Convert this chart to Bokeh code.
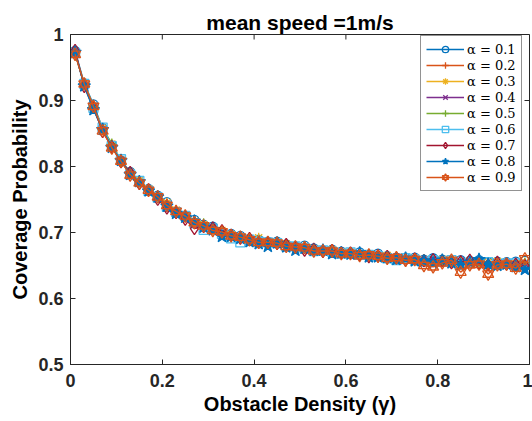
import math
from bokeh.plotting import figure
from bokeh.models import (FixedTicker, CustomJSTickFormatter, Legend,
                          LegendItem, Range1d)
from bokeh.embed import file_html
from bokeh.resources import INLINE

# ---------------- data ----------------
density = [0.01, 0.03, 0.05, 0.07, 0.09, 0.11, 0.13, 0.15, 0.17, 0.19,
           0.21, 0.23, 0.25, 0.27, 0.29, 0.31, 0.33, 0.35, 0.37, 0.39,
           0.41, 0.43, 0.45, 0.47, 0.49, 0.51, 0.53, 0.55, 0.57, 0.59,
           0.61, 0.63, 0.65, 0.67, 0.69, 0.71, 0.73, 0.75, 0.77, 0.79,
           0.81, 0.83, 0.85, 0.87, 0.89, 0.91, 0.93, 0.95, 0.97, 0.99]

alpha_01 = [.975, .926, .894, .858, .832, .809, .792, .776, .766, .756,
            .746, .730, .725, .719, .712, .709, .701, .698, .695, .688,
            .689, .686, .686, .682, .679, .680, .676, .673, .674, .671,
            .669, .670, .666, .668, .664, .662, .662, .662, .659, .661,
            .659, .657, .658, .657, .658, .655, .656, .655, .656, .657]
alpha_02 = [.971, .925, .888, .855, .831, .807, .790, .778, .763, .753,
            .740, .733, .723, .716, .708, .706, .699, .696, .694, .688,
            .687, .687, .682, .681, .676, .676, .675, .671, .671, .671,
            .667, .667, .666, .662, .662, .662, .659, .659, .660, .656,
            .655, .656, .656, .654, .651, .654, .654, .651, .651, .652]
alpha_03 = [.972, .926, .891, .858, .834, .810, .791, .779, .766, .754,
            .745, .734, .724, .717, .712, .704, .703, .697, .692, .691,
            .692, .686, .685, .683, .677, .678, .675, .672, .674, .670,
            .670, .667, .666, .666, .665, .662, .660, .661, .659, .656,
            .659, .657, .655, .657, .652, .655, .656, .653, .653, .654]
alpha_04 = [.973, .923, .890, .856, .829, .810, .790, .775, .765, .755,
            .742, .731, .726, .717, .709, .708, .701, .694, .692, .690,
            .686, .687, .683, .678, .679, .675, .674, .674, .670, .669,
            .669, .665, .665, .665, .661, .663, .660, .658, .659, .660,
            .657, .655, .657, .655, .651, .644, .653, .655, .651, .653]
alpha_05 = [.971, .924, .891, .857, .835, .808, .789, .777, .764, .752,
            .743, .732, .723, .718, .714, .705, .699, .697, .692, .687,
            .687, .686, .682, .680, .680, .675, .674, .673, .670, .670,
            .668, .669, .664, .664, .663, .660, .662, .659, .657, .657,
            .658, .655, .655, .657, .653, .654, .654, .652, .652, .654]
alpha_06 = [.972, .925, .889, .859, .831, .811, .788, .778, .763, .753,
            .739, .731, .725, .714, .704, .706, .698, .691, .685, .689,
            .686, .685, .684, .679, .679, .676, .672, .673, .671, .668,
            .670, .666, .666, .664, .661, .658, .661, .659, .656, .658,
            .656, .658, .651, .654, .654, .655, .651, .653, .653, .651]
alpha_07 = [.976, .921, .889, .853, .830, .807, .791, .774, .765, .750,
            .737, .730, .720, .706, .709, .707, .703, .696, .691, .691,
            .685, .684, .683, .682, .677, .673, .675, .671, .673, .669,
            .669, .666, .663, .665, .664, .661, .658, .660, .657, .659,
            .657, .654, .656, .658, .653, .651, .655, .652, .652, .650]
alpha_08 = [.973, .922, .886, .856, .829, .809, .788, .777, .763, .754,
            .740, .729, .723, .717, .708, .704, .694, .694, .691, .686,
            .683, .679, .684, .678, .673, .676, .673, .673, .668, .669,
            .667, .669, .663, .663, .662, .659, .661, .657, .657, .654,
            .658, .654, .651, .655, .659, .652, .650, .652, .648, .644]
alpha_09 = [.970, .925, .891, .854, .828, .808, .787, .775, .764, .754,
            .741, .732, .725, .715, .710, .703, .701, .695, .693, .689,
            .685, .685, .684, .679, .678, .677, .672, .672, .672, .668,
            .668, .665, .666, .664, .661, .662, .658, .659, .650, .648,
            .654, .658, .640, .651, .652, .637, .651, .652, .646, .660]

series_labels = ["α = 0.1", "α = 0.2", "α = 0.3", "α = 0.4", "α = 0.5",
                 "α = 0.6", "α = 0.7", "α = 0.8", "α = 0.9"]
x_ticks = [0, 0.2, 0.4, 0.6, 0.8, 1]
y_ticks = [0.5, 0.6, 0.7, 0.8, 0.9, 1]

series = [alpha_01, alpha_02, alpha_03, alpha_04, alpha_05,
          alpha_06, alpha_07, alpha_08, alpha_09]
colors = ["#0072BD", "#D95319", "#EDB120", "#7E2F8E", "#77AC30",
          "#4DBEEE", "#A2142F", "#0072BD", "#D95319"]
# marker specs: list of (marker, size, filled)
markers = [[("circle", 9, False)],
           [("cross", 10, False)],
           [("asterisk", 10, False)],
           [("x", 9, False)],
           [("cross", 10, False)],
           [("square", 9, False)],
           [("diamond", 12, False)],
           [("star", 13, True)],
           [("triangle", 11, False), ("inverted_triangle", 11, False)]]

AX = "#262626"
FONT = "Liberation Sans"

p = figure(width=532, height=421, output_backend="svg", toolbar_location=None,
           x_range=Range1d(0, 1), y_range=Range1d(0.5, 1),
           min_border_left=70, min_border_right=3, min_border_top=34,
           min_border_bottom=57, title="mean speed =1m/s")
p.grid.visible = False
p.outline_line_color = AX
p.outline_line_width = 1
p.background_fill_color = "white"
p.border_fill_color = "white"

p.title.align = "center"
p.title.text_font = FONT
p.title.text_font_size = "21px"
p.title.text_font_style = "bold"
p.title.text_color = "black"
p.title.standoff = 2

fmt = CustomJSTickFormatter(code="return String(Math.round(tick*10)/10)")

for ax, ticks, label in ((p.xaxis[0], x_ticks, "Obstacle Density (γ)"),
                         (p.yaxis[0], y_ticks, "Coverage Probability")):
    ax.ticker = FixedTicker(ticks=ticks)
    ax.formatter = fmt
    ax.axis_label = label
    ax.axis_label_text_font = FONT
    ax.axis_label_text_font_size = "20px"
    ax.axis_label_text_font_style = "bold"
    ax.axis_label_text_color = "black"
    ax.major_label_text_font = FONT
    ax.major_label_text_font_size = "18px"
    ax.major_label_text_font_style = "bold"
    ax.major_label_text_color = AX
    ax.axis_line_color = AX
    ax.major_tick_line_color = AX
    ax.major_tick_in = 5
    ax.major_tick_out = 0
    ax.minor_tick_line_color = None

p.xaxis.major_label_standoff = 9
p.xaxis.axis_label_standoff = 3
p.yaxis.major_label_standoff = 7
p.yaxis.axis_label_standoff = 4

# inward ticks on the top and right edges of the box
p.ray(x=x_ticks, y=[1] * len(x_ticks), length=5, length_units="screen",
      angle=-math.pi / 2, line_color=AX, line_width=1)
p.ray(x=[1] * len(y_ticks), y=y_ticks, length=5, length_units="screen",
      angle=math.pi, line_color=AX, line_width=1)

items = []
for vals, col, mk, lab in zip(series, colors, markers, series_labels):
    rs = [p.line(density, vals, line_color=col, line_width=1.4)]
    for m, s, filled in mk:
        rs.append(p.scatter(density, vals, marker=m, size=s, line_color=col,
                            line_width=1.3,
                            fill_color=col if filled else None))
    items.append(LegendItem(label=lab, renderers=rs))

legend = Legend(items=items, location=(350, 173),
                label_text_font="DejaVu Serif", label_text_font_size="13px",
                label_text_color="black", label_standoff=3,
                glyph_width=38, glyph_height=16, label_height=16,
                spacing=0, padding=5, margin=0,
                border_line_color=AX, border_line_width=1,
                background_fill_color="white", background_fill_alpha=1)
p.add_layout(legend, "center")

open("out.html", "w").write(file_html(p, INLINE))
